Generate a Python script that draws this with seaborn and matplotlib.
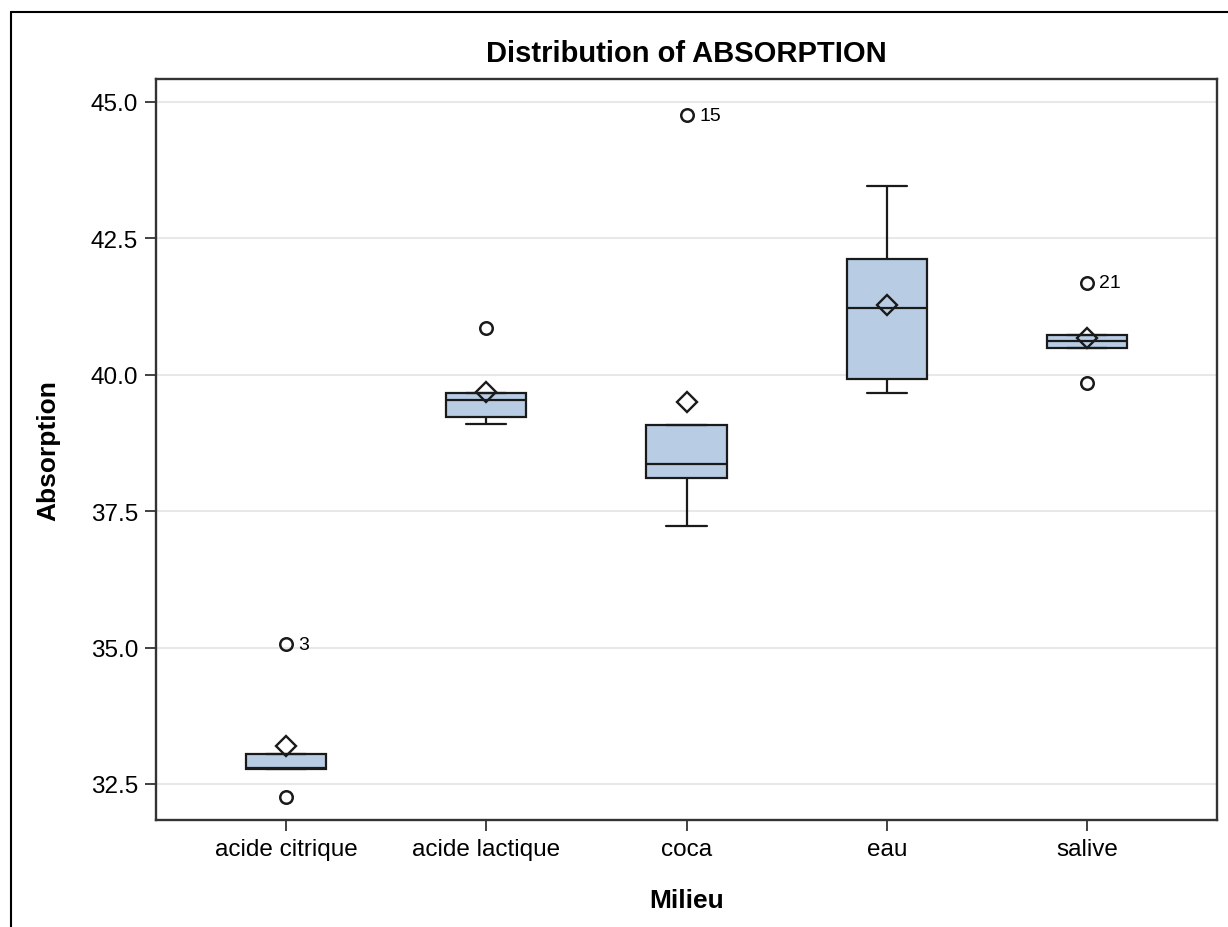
import numpy as np
import pandas as pd
import matplotlib
matplotlib.use("Agg")
import matplotlib.pyplot as plt
from matplotlib.lines import Line2D
import seaborn as sns

# ---- data ----
categories = ["acide citrique", "acide lactique", "coca", "eau", "salive"]
acide_citrique = [32.27, 32.77, 35.06, 32.79, 33.05]
acide_lactique = [39.10, 39.23, 39.54, 39.67, 40.85]
coca = [37.23, 38.10, 38.36, 39.07, 44.76]
eau = [39.66, 39.93, 41.23, 42.12, 43.45]
salive = [41.69, 39.85, 40.49, 40.62, 40.73]
label_ids = ["3", "15", "21"]
label_groups = ["acide citrique", "coca", "salive"]
y_ticks = [32.5, 35.0, 37.5, 40.0, 42.5, 45.0]

groups = [acide_citrique, acide_lactique, coca, eau, salive]
df = pd.DataFrame({
    "Milieu": np.repeat(categories, [len(g) for g in groups]),
    "Absorption": np.concatenate(groups),
})

sns.set_style("white")
plt.rcParams["font.family"] = ["Liberation Sans", "DejaVu Sans"]
plt.rcParams["text.color"] = "black"
plt.rcParams["axes.labelcolor"] = "black"

fig = plt.figure(figsize=(12.28, 9.28), dpi=100)
ax = fig.add_axes([156 / 1228, 1 - 821 / 928, (1217 - 156) / 1228, (821 - 80) / 928])

line_c = "#1a1a1a"
sns.boxplot(
    data=df, x="Milieu", y="Absorption", order=categories, ax=ax,
    width=0.4, color="#B8CCE4", saturation=1, linecolor=line_c, linewidth=1.6,
    whis=1.5, showmeans=True,
    meanprops=dict(marker="D", markerfacecolor="none", markeredgecolor=line_c,
                   markeredgewidth=1.7, markersize=10.5),
    flierprops=dict(marker="o", markerfacecolor="none", markeredgecolor=line_c,
                    markeredgewidth=1.8, markersize=9),
)

# labels for the identified outliers
for lab, grp in zip(label_ids, label_groups):
    xi = categories.index(grp)
    val = df.loc[df["Milieu"] == grp, "Absorption"].max()
    ax.annotate(lab, (xi, val), xytext=(9, 0), textcoords="offset points",
                ha="left", va="center", fontsize=14, color="black")

ax.set_xlim(-0.65, 4.65)
ax.set_ylim(31.84, 45.42)
ax.set_yticks(y_ticks)
ax.set_yticklabels([f"{t:.1f}" for t in y_ticks])
ax.yaxis.grid(True, color="#E8E8E8", linewidth=1.5)
ax.set_axisbelow(True)

for s in ax.spines.values():
    s.set_color("#333333")
    s.set_linewidth(1.7)

ax.tick_params(axis="both", direction="out", length=8, width=1.3, color="#333333",
               labelsize=17.5, labelcolor="black", pad=5,
               left=True, bottom=True)

ax.set_xlabel("Milieu", fontsize=19, fontweight="bold", labelpad=20, color="black")
ax.set_ylabel("Absorption", fontsize=19, fontweight="bold", labelpad=22, color="black")
ax.set_title("Distribution of ABSORPTION", fontsize=21, fontweight="bold", pad=13, color="black")

# outer frame (left and top edges visible)
fx = 11 / 1228
fy = 1 - 13 / 928
fig.add_artist(Line2D([fx, fx], [0, fy], transform=fig.transFigure, color="black", linewidth=1.5))
fig.add_artist(Line2D([fx, 1], [fy, fy], transform=fig.transFigure, color="black", linewidth=1.5))

fig.savefig("out.png", dpi=100)
